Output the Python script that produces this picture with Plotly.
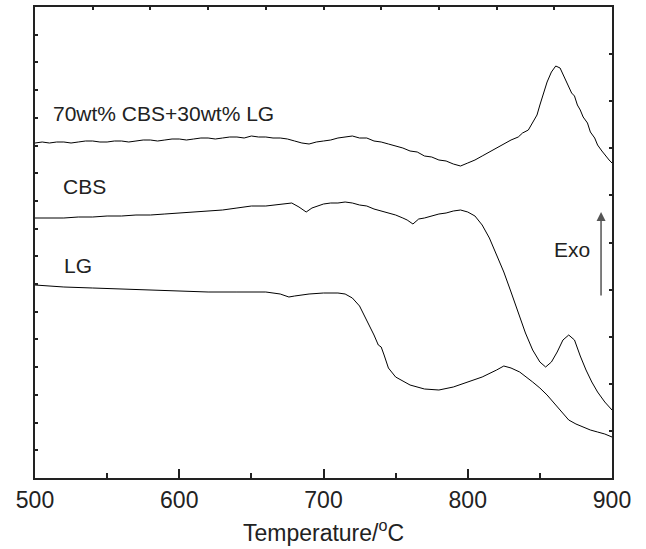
import plotly.graph_objects as go

# Temperature (°C) and DSC signal (arbitrary units, offset curves)
t_mix = [500, 505, 510, 515, 520, 525, 530, 535, 540, 545, 550, 555, 560, 565, 570, 575, 580, 585, 590, 595,
         600, 605, 610, 615, 620, 625, 630, 635, 640, 645, 650, 655, 660, 665, 670, 675, 680, 685,
         690, 695, 700, 705, 710, 715, 720, 725, 730, 735, 740, 745, 750, 755, 760, 765, 770, 775, 780, 785,
         790, 795, 800, 805, 810, 815, 820, 825, 830, 835, 838, 842, 845, 848, 850,
         853, 855, 858, 861, 864, 866, 868, 870, 872, 874, 876, 878, 880, 883, 885, 888, 890, 893, 895, 898, 900]
y_mix = [335, 336, 335, 336, 336, 335, 336, 337, 337, 336, 336, 337, 337, 336, 337, 338, 338, 337, 338, 339,
         339, 338, 339, 340, 340, 339, 340, 341, 341, 340, 342, 341, 341, 340, 340, 339, 337, 335,
         334, 336, 337, 338, 340, 341, 342, 340, 340, 337, 336, 334, 332, 330, 327, 326, 322, 321, 318, 317,
         314, 312, 315, 318, 322, 326, 330, 334, 338, 341, 345, 348, 356, 363, 373,
         387, 396, 406, 412, 410, 404, 398, 392, 385, 382, 373, 368, 361, 355, 346, 340, 333, 327, 323, 318, 315]

t_cbs = [500, 510, 520, 530, 540, 550, 560, 570, 580, 590, 600, 610, 620, 630, 640, 650, 660, 670, 678, 683,
         688, 692, 700, 705, 710, 715, 720, 725, 730, 735, 740, 745,
         750, 755, 758, 762, 766, 770, 775, 780, 785, 790, 795, 800, 805, 810, 815, 820, 825, 830, 835, 840,
         845, 850, 854, 858, 862, 866, 870, 874, 878, 882, 886, 890, 895, 900]
y_cbs = [260, 260, 260, 261, 261, 262, 262, 263, 263, 264, 265, 266, 267, 268, 270, 272, 272, 274, 275, 271,
         266, 270, 274, 275, 275, 276, 275, 273, 272, 269, 267, 265,
         263, 260, 258, 254, 259, 260, 262, 264, 265, 267, 268, 266, 262, 253, 240, 223, 206, 186, 165, 145,
         128, 116, 111, 116, 126, 138, 143, 138, 122, 108, 96, 86, 76, 68]

t_lg = [500, 520, 540, 560, 580, 600, 620, 640, 660, 670, 676, 680, 690, 700, 710, 715, 720, 725, 730, 735,
        738, 740, 742, 745, 750, 760, 770, 780, 790, 800, 810, 820, 825, 830, 836, 845, 850, 855, 860, 865,
        870, 875, 880, 885, 890, 895, 900]
y_lg = [193, 191, 190, 189, 188, 187, 186, 186, 186, 184, 181, 182, 184, 185, 185, 184, 180, 172, 158, 143,
        133, 131, 123, 110, 101, 93, 89, 88, 91, 96, 101, 108, 112, 110, 106, 96, 90, 83, 75, 66,
        58, 54, 51, 48, 46, 44, 41]

labels = ["70wt% CBS+30wt% LG", "CBS", "LG"]
label_pos = [(511, 365), (518, 292), (518.5, 213)]

fig = go.Figure()
for t, y in [(t_mix, y_mix), (t_cbs, y_cbs), (t_lg, y_lg)]:
    fig.add_trace(go.Scatter(x=t, y=y, mode="lines", line=dict(color="black", width=1), showlegend=False,
                             hoverinfo="skip"))
# invisible trace for mirror axes
fig.add_trace(go.Scatter(x=[0], y=[0], xaxis="x2", yaxis="y2", mode="markers", marker=dict(opacity=0),
                         showlegend=False, hoverinfo="skip"))

FONT = "Liberation Sans, Arial, sans-serif"
for txt, (xx, yy) in zip(labels, label_pos):
    fig.add_annotation(x=xx, y=yy, text=txt, showarrow=False, xanchor="left", yanchor="middle",
                       font=dict(family=FONT, size=21, color="#222"))
fig.add_annotation(x=872, y=229, text="Exo", showarrow=False, xanchor="center", yanchor="middle",
                   font=dict(family=FONT, size=21, color="#222"))
fig.add_annotation(x=892.4, y=266, ax=892.4, ay=181, xref="x", yref="y", axref="x", ayref="y",
                   text="", showarrow=True, arrowhead=2, arrowsize=1.2, arrowwidth=1.5, arrowcolor="#555")

fig.update_layout(
    width=646, height=549,
    margin=dict(l=35, r=34, t=7, b=71),
    plot_bgcolor="white", paper_bgcolor="white",
    font=dict(family=FONT, color="#222"),
    xaxis=dict(range=[500, 900], tickvals=[500, 600, 700, 800, 900], ticks="inside", ticklen=9,
               tickwidth=1.5, tickcolor="#222", showline=True, linewidth=2, linecolor="#222",
               showgrid=False, zeroline=False, tickfont=dict(size=23, family=FONT),
               minor=dict(tickvals=[550, 650, 750, 850], ticks="inside", ticklen=5, tickcolor="#222",
                          tickwidth=1.5),
               title=dict(text="Temperature/<sup>o</sup>C", font=dict(size=23, family=FONT), standoff=13)),
    yaxis=dict(range=[0, 471], tick0=0, dtick=471 / 17, ticks="inside", ticklen=3, tickwidth=1.5,
               tickcolor="#222", showticklabels=False, showline=True, linewidth=2, linecolor="#222",
               showgrid=False, zeroline=False),
    xaxis2=dict(range=[0, 10], overlaying="x", side="top", tick0=0, dtick=1, ticks="inside", ticklen=3,
                tickwidth=1.5, tickcolor="#222", showticklabels=False, showline=True, linewidth=2,
                linecolor="#222", showgrid=False, zeroline=False),
    yaxis2=dict(range=[0, 10], overlaying="y", side="right", tick0=0, dtick=1, ticks="inside", ticklen=3,
                tickwidth=1.5, tickcolor="#222", showticklabels=False, showline=True, linewidth=2,
                linecolor="#222", showgrid=False, zeroline=False),
)

fig.write_html("out.html")
